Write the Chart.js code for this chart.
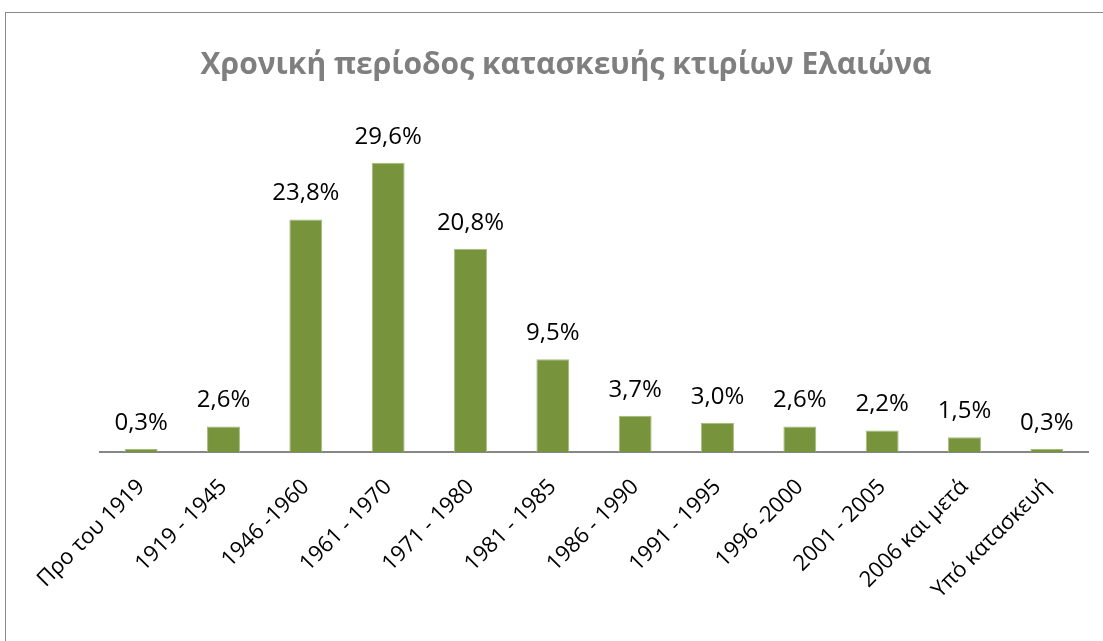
<!DOCTYPE html>
<html>
<head>
<meta charset="utf-8">
<script src="https://cdn.jsdelivr.net/npm/chart.js@4/dist/chart.umd.min.js"></script>
<style>
  html, body { margin: 0; padding: 0; background: #fff; }
  #wrap { position: relative; width: 1103px; height: 641px; overflow: hidden; }
  #frame { position: absolute; left: 5px; top: 12px; width: 1110px; height: 650px; border: 1px solid #898989; box-sizing: border-box; }
  canvas { position: absolute; left: 0; top: 0; }
</style>
</head>
<body>
<div id="wrap">
  <div id="frame"></div>
  <canvas id="buildChart" width="1103" height="641"></canvas>
</div>
<script>
const periods = ['Προ του 1919', '1919 - 1945', '1946 -1960', '1961 - 1970', '1971 - 1980', '1981 - 1985',
                 '1986 - 1990', '1991 - 1995', '1996 -2000', '2001 - 2005', '2006 και μετά', 'Υπό κατασκευή'];
const shares = [0.3, 2.6, 23.8, 29.6, 20.8, 9.5, 3.7, 3.0, 2.6, 2.2, 1.5, 0.3];

// draws the % value above every bar
const valueLabels = {
    id: 'valueLabels',
    afterDatasetsDraw(chart) {
        const ctx = chart.ctx;
        const meta = chart.getDatasetMeta(0);
        ctx.save();
        ctx.font = "24px 'Open Sans', sans-serif";
        ctx.fillStyle = '#000';
        ctx.textAlign = 'center';
        ctx.textBaseline = 'middle';
        meta.data.forEach((bar, i) => {
            const txt = shares[i].toFixed(1).replace('.', ',') + '%';
            ctx.fillText(txt, bar.x, bar.y - 26);
        });
        ctx.restore();
    }
};

new Chart(document.getElementById('buildChart').getContext('2d'), {
    type: 'bar',
    data: {
        labels: periods,
        datasets: [{
            data: shares,
            backgroundColor: '#77933c',
            borderColor: '#a3bd78',
            borderWidth: 1,
            barPercentage: 0.8,
            categoryPercentage: 0.5
        }]
    },
    options: {
        responsive: false,
        animation: false,
        layout: { padding: { left: 44, right: 15, top: 0, bottom: 0 } },
        plugins: {
            legend: { display: false },
            tooltip: { enabled: false },
            title: {
                display: true,
                text: 'Χρονική περίοδος κατασκευής κτιρίων Ελαιώνα',
                color: '#7f7f7f',
                font: { family: "'Open Sans', sans-serif", size: 30, weight: 'bold', lineHeight: 1.2 },
                padding: { top: 47, bottom: 27 }
            }
        },
        scales: {
            y: {
                min: 0, max: 35,
                grid: { display: false },
                border: { display: false },
                ticks: { display: false },
                afterFit(scale) { scale.width = 56; }
            },
            x: {
                grid: { display: false },
                border: { color: '#868686', width: 2 },
                ticks: {
                    color: '#000',
                    font: { family: "'Open Sans', sans-serif", size: 22 },
                    minRotation: 45,
                    maxRotation: 45,
                    autoSkip: false,
                    padding: 14
                },
                afterFit(scale) { scale.height = 189; }
            }
        }
    },
    plugins: [valueLabels]
});
</script>
</body>
</html>
